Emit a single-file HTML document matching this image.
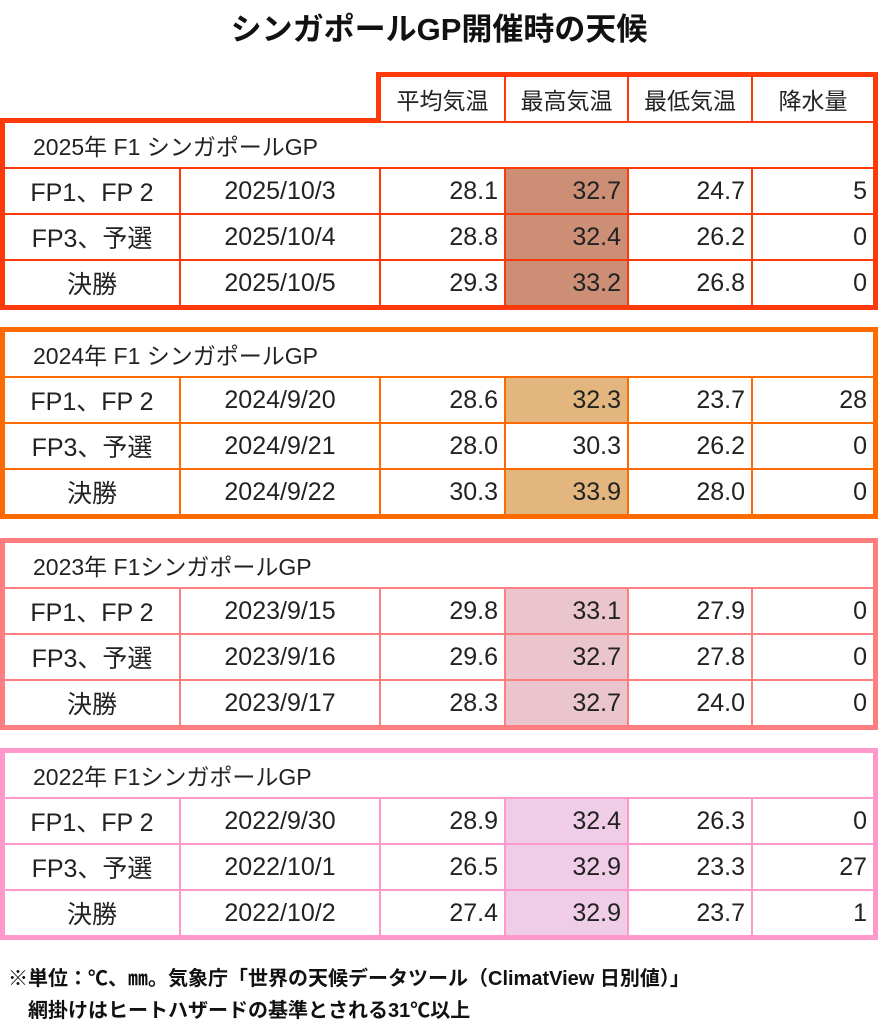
<!DOCTYPE html>
<html><head><meta charset="utf-8"><style>
body{margin:0;width:878px;height:1024px;background:#fff;position:relative;overflow:hidden;font-family:"Liberation Sans","Noto Sans CJK JP",sans-serif;color:#222}
.t{position:absolute;top:4px;left:0;width:878px;text-align:center;font-size:31px;font-weight:bold;color:#111}
.blk{position:absolute;left:0;width:868px;border:5px solid;display:grid;grid-template-columns:174px 198px 123px 121px 122px 120px;grid-template-rows:44px 44px 44px 44px;gap:2px}
.blk div{background:#fff;font-size:25px;display:flex;align-items:center;justify-content:center}
.blk .ti{grid-column:1/7;justify-content:flex-start;padding-left:28px;font-size:23px}
.blk .n{justify-content:flex-end;padding-right:6px}
.hd{position:absolute;left:376px;top:72px;width:492px;height:44px;border:5px solid #ff3a0a;border-bottom:none;display:grid;grid-template-columns:123px 121px 122px 120px;gap:2px;background:#ff3a0a;z-index:2}
.hd div{background:#fff;font-size:23px;display:flex;align-items:center;justify-content:center}
.f{position:absolute;left:8px;font-size:20px;font-weight:bold;color:#111;white-space:nowrap}
</style></head><body>
<div class="t">シンガポールGP開催時の天候</div>
<div class="hd"><div>平均気温</div><div>最高気温</div><div>最低気温</div><div>降水量</div></div>

<div class="blk" style="top:118px;border-color:#ff3a0a;background:#ff3a0a">
<div class="ti">2025年 F1 シンガポールGP</div>
<div>FP1、FP 2</div><div>2025/10/3</div><div class="n">28.1</div><div class="n" style="background:#cc8f76">32.7</div><div class="n">24.7</div><div class="n">5</div>
<div>FP3、予選</div><div>2025/10/4</div><div class="n">28.8</div><div class="n" style="background:#cc8f76">32.4</div><div class="n">26.2</div><div class="n">0</div>
<div>決勝</div><div>2025/10/5</div><div class="n">29.3</div><div class="n" style="background:#cc8f76">33.2</div><div class="n">26.8</div><div class="n">0</div>
</div>

<div class="blk" style="top:327px;border-color:#ff6a00;background:#ff6a00">
<div class="ti">2024年 F1 シンガポールGP</div>
<div>FP1、FP 2</div><div>2024/9/20</div><div class="n">28.6</div><div class="n" style="background:#e3b680">32.3</div><div class="n">23.7</div><div class="n">28</div>
<div>FP3、予選</div><div>2024/9/21</div><div class="n">28.0</div><div class="n">30.3</div><div class="n">26.2</div><div class="n">0</div>
<div>決勝</div><div>2024/9/22</div><div class="n">30.3</div><div class="n" style="background:#e3b680">33.9</div><div class="n">28.0</div><div class="n">0</div>
</div>

<div class="blk" style="top:538px;border-color:#ff7f80;background:#ff7f80">
<div class="ti">2023年 F1シンガポールGP</div>
<div>FP1、FP 2</div><div>2023/9/15</div><div class="n">29.8</div><div class="n" style="background:#eac5cd">33.1</div><div class="n">27.9</div><div class="n">0</div>
<div>FP3、予選</div><div>2023/9/16</div><div class="n">29.6</div><div class="n" style="background:#eac5cd">32.7</div><div class="n">27.8</div><div class="n">0</div>
<div>決勝</div><div>2023/9/17</div><div class="n">28.3</div><div class="n" style="background:#eac5cd">32.7</div><div class="n">24.0</div><div class="n">0</div>
</div>

<div class="blk" style="top:748px;border-color:#ff99cc;background:#ff99cc">
<div class="ti">2022年 F1シンガポールGP</div>
<div>FP1、FP 2</div><div>2022/9/30</div><div class="n">28.9</div><div class="n" style="background:#f0cde6">32.4</div><div class="n">26.3</div><div class="n">0</div>
<div>FP3、予選</div><div>2022/10/1</div><div class="n">26.5</div><div class="n" style="background:#f0cde6">32.9</div><div class="n">23.3</div><div class="n">27</div>
<div>決勝</div><div>2022/10/2</div><div class="n">27.4</div><div class="n" style="background:#f0cde6">32.9</div><div class="n">23.7</div><div class="n">1</div>
</div>

<div class="f" style="top:962px">※単位：℃、㎜。気象庁「世界の天候データツール（ClimatView 日別値）」</div>
<div class="f" style="top:994px;left:28px">網掛けはヒートハザードの基準とされる31℃以上</div>
</body></html>
